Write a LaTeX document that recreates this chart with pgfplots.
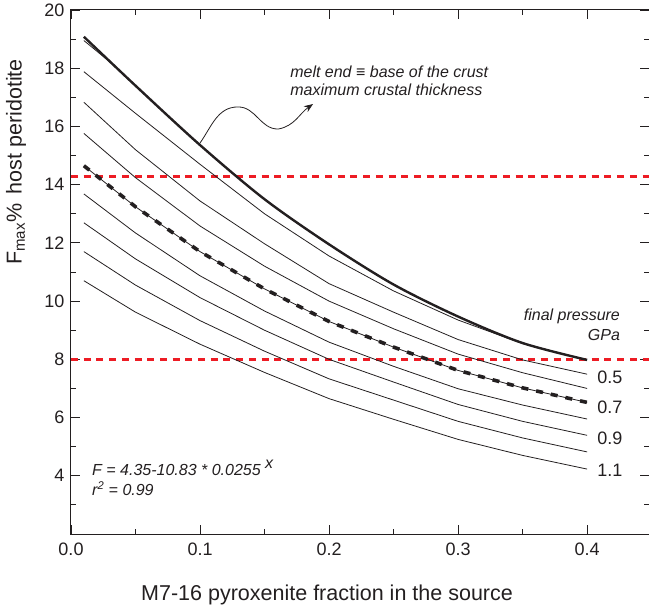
\documentclass[border=0pt]{standalone}
\usepackage{fontspec}
\setmainfont{Liberation Sans}
\usepackage{pgfplots}
\pgfplotsset{compat=1.18}
\usepackage{pgfplotstable}
\usetikzlibrary{arrows.meta}

\definecolor{refred}{RGB}{237,28,36}
\definecolor{ink}{RGB}{35,31,32}

% F max (%) vs pyroxenite fraction, one column per final pressure (GPa)
\pgfplotstableread{
x     top    p04    p05    p06    p07    p08    p09    p10    p11
0.01  19.08  17.88  16.83  15.76  14.65  13.68  12.69  11.70  10.70
0.05  17.40  16.45  15.20  14.24  13.24  12.34  11.45  10.55  9.62
0.10  15.36  14.70  13.44  12.58  11.70  10.87  10.12  9.33   8.52
0.15  13.50  13.00  11.97  11.20  10.42  9.66   9.00   8.28   7.55
0.20  11.95  11.55  10.60  10.00  9.30   8.59   8.00   7.33   6.65
0.25  10.57  10.35  9.62   9.05   8.42   7.76   7.22   6.60   5.94
0.30  9.47   9.35   8.68   8.18   7.62   6.99   6.45   5.87   5.25
0.35  8.56   8.54   7.98   7.54   7.02   6.43   5.87   5.30   4.70
0.40  7.98   7.98   7.49   7.00   6.52   5.95   5.39   4.82   4.23
}\curves

\begin{document}
\begin{tikzpicture}
\begin{axis}[
  scale only axis, width=578pt, height=524pt,
  xmin=0, xmax=0.448, ymin=2, ymax=20,
  xtick={0,0.1,0.2,0.3,0.4}, minor xtick={0.05,0.15,0.25,0.35},
  ytick={4,6,...,20}, minor ytick={3,5,...,19},
  xticklabel style={yshift=-5pt, /pgf/number format/.cd, fixed, fixed zerofill, precision=1},
  yticklabel style={xshift=-3pt},
  /pgf/number format/assume math mode=true,
  tick label style={font=\fontsize{18}{20}\selectfont, ink},
  major tick length=9pt, minor tick length=5pt,
  tick style={ink, line width=0.8pt},
  axis line style={ink, line width=1pt},
  xlabel={M7-16 pyroxenite fraction in the source},
  ylabel={F\textsubscript{max}\%\, host peridotite},
  label style={ink},
  xlabel style={font=\fontsize{21.5}{24}\selectfont, at={(axis description cs:0.443,-0.116)}, anchor=center},
  ylabel style={font=\fontsize{21.5}{26}\selectfont, at={(axis description cs:-0.095,0.71)}, anchor=center},
]
\coordinate (sw) at (rel axis cs:0,0);
\coordinate (ne) at (rel axis cs:1,1);

\addplot[refred, line width=3pt, dash pattern=on 7pt off 5.7pt] coordinates {(0,14.27)(0.448,14.27)};
\addplot[refred, line width=3pt, dash pattern=on 7pt off 5.7pt] coordinates {(0,8)(0.448,8)};

\addplot[ink, line width=0.8pt] coordinates {(0.01,18.95)(0.03,18.22)(0.05,17.40)};
\addplot[ink, line width=0.8pt] table[y=p04] {\curves};
\addplot[ink, line width=0.8pt] table[y=p05] {\curves};
\addplot[ink, line width=0.8pt] table[y=p06] {\curves};
\addplot[ink, line width=0.8pt] table[y=p07] {\curves};
\addplot[ink, line width=3.6pt, dash pattern=on 7pt off 8pt] table[y=p07] {\curves};
\addplot[ink, line width=0.8pt] table[y=p08] {\curves};
\addplot[ink, line width=0.8pt] table[y=p09] {\curves};
\addplot[ink, line width=0.8pt] table[y=p10] {\curves};
\addplot[ink, line width=0.8pt] table[y=p11] {\curves};
\addplot[ink, line width=2.4pt, smooth] table[y=top] {\curves};

\draw[ink, line width=0.8pt, -{Stealth[length=9pt,width=7pt]}]
  (axis cs:0.1,15.43) to[out=55,in=180] (axis cs:0.1295,16.67)
  to[out=0,in=180] (axis cs:0.1605,15.91)
  to[out=10,in=215] (axis cs:0.1876,16.77);

\node[anchor=west, inner sep=0, align=left, ink, font=\itshape\fontsize{16}{18}\selectfont]
  at (axis cs:0.1698,17.56) {melt end ≡ base of the crust\\maximum crustal thickness};
\node[anchor=east, inner sep=0, align=right, ink, font=\itshape\fontsize{16}{20}\selectfont]
  at (axis cs:0.4256,9.18) {final pressure\\GPa};
\node[anchor=west, inner sep=0, ink, font=\fontsize{18}{20}\selectfont] at (axis cs:0.4078,7.39) {0.5};
\node[anchor=west, inner sep=0, ink, font=\fontsize{18}{20}\selectfont] at (axis cs:0.4078,6.36) {0.7};
\node[anchor=west, inner sep=0, ink, font=\fontsize{18}{20}\selectfont] at (axis cs:0.4078,5.30) {0.9};
\node[anchor=west, inner sep=0, ink, font=\fontsize{18}{20}\selectfont] at (axis cs:0.4078,4.20) {1.1};
\node[anchor=west, inner sep=0, align=left, ink, font=\itshape\fontsize{16}{20}\selectfont]
  at (axis cs:0.0163,3.92) {F = 4.35-10.83 * 0.0255 \raisebox{0.45em}{x}\\r\textsuperscript{2} = 0.99};
\end{axis}
\pgfresetboundingbox
\path ([shift={(-71pt,-75pt)}]sw) rectangle ([shift={(0pt,10pt)}]ne);
\end{tikzpicture}
\end{document}
